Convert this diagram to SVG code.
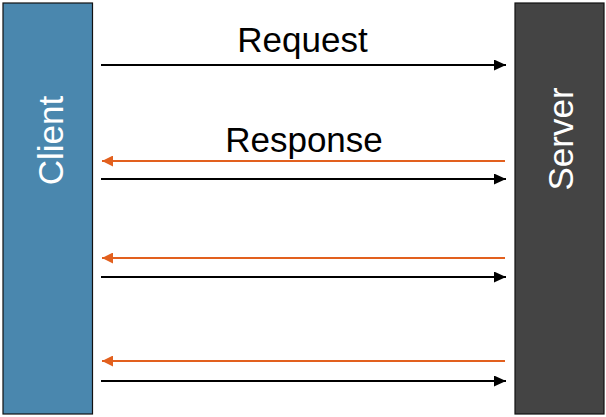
<svg xmlns="http://www.w3.org/2000/svg" width="606" height="417" viewBox="0 0 606 417">
  <defs>
    <style>
      .lbl { font-family: "Liberation Sans", Arial, sans-serif; font-size: 35px; }
      .node-text { font-family: "Liberation Sans", Arial, sans-serif; font-size: 35px; fill: #ffffff; }
      .req { stroke: #000000; stroke-width: 2; fill: none; }
      .res { stroke: #E2601E; stroke-width: 2; fill: none; }
    </style>
    <marker id="ah-black" markerWidth="13" markerHeight="11" refX="12" refY="5.5" orient="auto" markerUnits="userSpaceOnUse">
      <path d="M0,0 L12,5.5 L0,11 z" fill="#000000"/>
    </marker>
    <marker id="ah-orange" markerWidth="12" markerHeight="11" refX="11" refY="5.5" orient="auto" markerUnits="userSpaceOnUse">
      <path d="M0,0 L11,5.5 L0,11 z" fill="#E2601E"/>
    </marker>
  </defs>
  <rect width="606" height="417" fill="#ffffff"/>
  <g id="client">
    <rect x="3" y="3" width="89.5" height="411" fill="#4A87AE" stroke="#111111" stroke-width="1.2"/>
    <text class="node-text" transform="translate(62.5,140.5) rotate(-90)" text-anchor="middle">Client</text>
  </g>
  <g id="server">
    <rect x="515" y="3" width="89" height="411" fill="#444444" stroke="#111111" stroke-width="1.2"/>
    <text class="node-text" transform="translate(572.5,139) rotate(-90)" text-anchor="middle">Server</text>
  </g>
  <g id="connectors">
    <line class="req" x1="101" y1="65" x2="506" y2="65" marker-end="url(#ah-black)"/>
    <line class="res" x1="505" y1="161" x2="102" y2="161" marker-end="url(#ah-orange)"/>
    <line class="req" x1="101" y1="179" x2="506" y2="179" marker-end="url(#ah-black)"/>
    <line class="res" x1="505" y1="258" x2="102" y2="258" marker-end="url(#ah-orange)"/>
    <line class="req" x1="101" y1="277" x2="506" y2="277" marker-end="url(#ah-black)"/>
    <line class="res" x1="505" y1="361" x2="102" y2="361" marker-end="url(#ah-orange)"/>
    <line class="req" x1="101" y1="381" x2="506" y2="381" marker-end="url(#ah-black)"/>
  </g>
  <g id="labels">
    <text class="lbl" x="302.5" y="52" text-anchor="middle">Request</text>
    <text class="lbl" x="304" y="152" text-anchor="middle">Response</text>
  </g>
</svg>
